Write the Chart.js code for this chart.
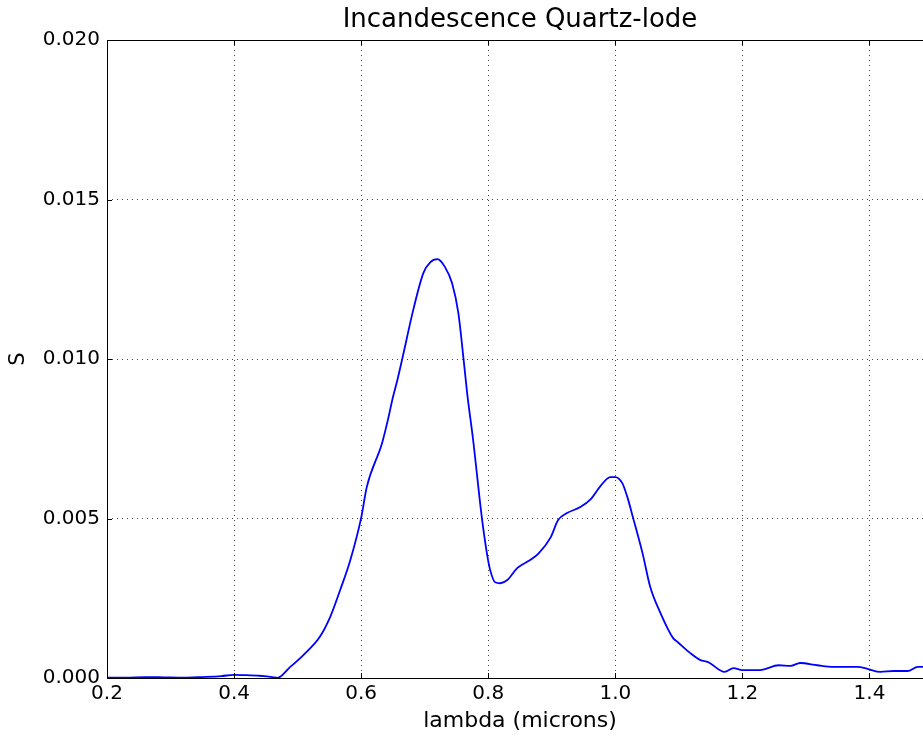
<!DOCTYPE html>
<html>
<head>
<meta charset="utf-8">
<title>Incandescence Quartz-lode</title>
<script src="https://cdn.jsdelivr.net/npm/chart.js@4"></script>
<style>
  html, body { margin: 0; padding: 0; background: #fff; overflow: hidden; }
  #wrap { width: 960px; height: 736px; }
</style>
</head>
<body>
<div id="wrap"><canvas id="spectrum"></canvas></div>
<script>
'use strict';

// ******** DATA *******

// wavelength samples (microns)
let lambda = [
  0.20, 0.23, 0.26, 0.29, 0.32, 0.35, 0.38, 0.40, 0.42, 0.44, 0.46, 0.468,
  0.488, 0.509, 0.535, 0.551, 0.567, 0.583, 0.600, 0.609, 0.633, 0.641,
  0.650, 0.657, 0.665, 0.682, 0.698, 0.709, 0.720, 0.732, 0.743, 0.753, 0.761,
  0.767, 0.776, 0.790, 0.798, 0.803, 0.811, 0.819, 0.830, 0.846, 0.866,
  0.879, 0.898, 0.910, 0.924, 0.945, 0.961, 0.976, 0.992, 1.000, 1.011,
  1.019, 1.028, 1.043, 1.055, 1.071, 1.091, 1.098, 1.118, 1.134, 1.146,
  1.172, 1.186, 1.200, 1.228, 1.257, 1.276, 1.291, 1.318, 1.343, 1.381,
  1.398, 1.417, 1.438, 1.460, 1.476, 1.500
];

// measured signal S
let signal = [
  0.00001, 0.00001, 0.00003, 0.00002, 0.00001, 0.00003, 0.00006, 0.00010, 0.00009, 0.00007, 0.00003, 0.00000,
  0.00034, 0.00072, 0.00129, 0.00190, 0.00276, 0.00370, 0.00502, 0.00600, 0.00737, 0.00800,
  0.00880, 0.00934, 0.01003, 0.01154, 0.01270, 0.01304, 0.01313, 0.01288, 0.01238, 0.01144, 0.01003,
  0.00890, 0.00750, 0.00502, 0.00390, 0.00339, 0.00300, 0.00297, 0.00307, 0.00345, 0.00370,
  0.00390, 0.00440, 0.00495, 0.00517, 0.00536, 0.00560, 0.00600, 0.00630, 0.00630, 0.00611,
  0.00567, 0.00502, 0.00390, 0.00285, 0.00204, 0.00125, 0.00113, 0.00078, 0.00056, 0.00050,
  0.00019, 0.00031, 0.00025, 0.00025, 0.00040, 0.00038, 0.00047, 0.00040, 0.00035, 0.00035,
  0.00028, 0.00019, 0.00022, 0.00022, 0.00035, 0.00036
];

// axis ticks
let xTicks = [0.2, 0.4, 0.6, 0.8, 1.0, 1.2, 1.4];
let yTicks = [0.000, 0.005, 0.010, 0.015, 0.020];

let points = [];
for (let i = 0; i < lambda.length; i++) {
  points.push({ x: lambda[i], y: signal[i] });
}

// ******** PLUGINS *******

// black frame around the plot with small inward tick marks
let frameBox = {
  id: 'frameBox',
  afterDraw(chart) {
    let ctx = chart.ctx;
    let area = chart.chartArea;
    let xs = chart.scales.x;
    let ys = chart.scales.y;
    ctx.save();
    ctx.strokeStyle = '#000';
    ctx.lineWidth = 1;
    ctx.setLineDash([]);
    ctx.strokeRect(area.left + 0.5, area.top + 0.5, area.right - area.left, area.bottom - area.top);
    ctx.beginPath();
    for (let v of xTicks) {
      let px = Math.round(xs.getPixelForValue(v)) + 0.5;
      ctx.moveTo(px, area.bottom);
      ctx.lineTo(px, area.bottom - 5);
      ctx.moveTo(px, area.top);
      ctx.lineTo(px, area.top + 5);
    }
    for (let v of yTicks) {
      let py = Math.round(ys.getPixelForValue(v)) + 0.5;
      ctx.moveTo(area.left, py);
      ctx.lineTo(area.left + 5, py);
      ctx.moveTo(area.right, py);
      ctx.lineTo(area.right - 5, py);
    }
    ctx.stroke();
    ctx.restore();
  }
};

// ******** CHART *******

let ctx = document.getElementById('spectrum');
let font = 'DejaVu Sans';

let chartObject = {
  type: 'line',
  data: {
    datasets: [{
      label: 'S',
      data: points,
      borderColor: '#0000ff',
      borderWidth: 1.8,
      pointRadius: 0,
      fill: false,
      cubicInterpolationMode: 'monotone'
    }]
  },
  options: {
    responsive: true,
    maintainAspectRatio: false,
    animation: false,
    layout: { padding: { left: 0, top: 0, right: 27, bottom: 0 } },
    plugins: {
      legend: { display: false },
      tooltip: { enabled: false },
      title: {
        display: true,
        fullSize: false,
        text: 'Incandescence Quartz-lode',
        color: '#000',
        font: { family: font, size: 26, weight: 'normal' },
        padding: { top: 5, bottom: 3.8 }
      }
    },
    scales: {
      x: {
        type: 'linear',
        min: 0.2,
        max: 1.5,
        afterBuildTicks: (scale) => { scale.ticks = xTicks.map(v => ({ value: v })); },
        afterFit: (scale) => { scale.height = 58; },
        ticks: {
          color: '#000',
          padding: 4,
          maxRotation: 0,
          font: { family: font, size: 20 },
          callback: (v) => Number(v).toFixed(1)
        },
        grid: { color: '#444', lineWidth: 1, drawTicks: false },
        border: { display: false, dash: [1, 4] },
        title: {
          display: true,
          text: 'lambda (microns)',
          color: '#000',
          font: { family: font, size: 22 },
          padding: { top: 0, bottom: 2 }
        }
      },
      y: {
        type: 'linear',
        min: 0,
        max: 0.02,
        afterBuildTicks: (scale) => { scale.ticks = yTicks.map(v => ({ value: v })); },
        afterFit: (scale) => { scale.width = 107; },
        ticks: {
          color: '#000',
          padding: 7,
          font: { family: font, size: 20 },
          callback: (v) => Number(v).toFixed(3)
        },
        grid: { color: '#444', lineWidth: 1, drawTicks: false },
        border: { display: false, dash: [1, 4] },
        title: {
          display: true,
          text: 'S',
          color: '#000',
          font: { family: font, size: 21 },
          padding: { top: 6, bottom: 0 }
        }
      }
    }
  },
  plugins: [frameBox]
};

const myChart = new Chart(ctx, chartObject);
</script>
</body>
</html>
